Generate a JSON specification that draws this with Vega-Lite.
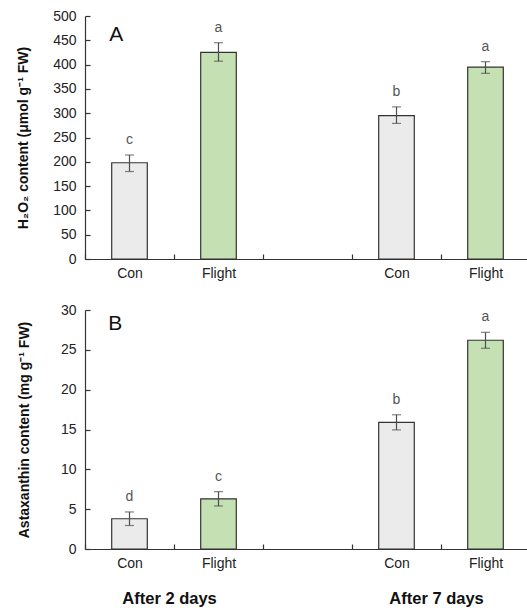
{
  "$schema": "https://vega.github.io/schema/vega-lite/v6.json",
  "padding": {"left": 16, "top": 9, "right": 0, "bottom": 0},
  "background": "white",
  "spacing": 23,
  "config": {
    "font": "Liberation Sans",
    "view": {"stroke": null},
    "axis": {
      "labelFont": "Liberation Sans",
      "labelFontSize": 14,
      "labelColor": "#222",
      "titleFont": "Liberation Sans",
      "titleFontSize": 14,
      "titleFontWeight": "bold",
      "titleColor": "#111",
      "domainColor": "#333",
      "domainWidth": 1.2,
      "tickColor": "#333",
      "tickWidth": 1.2,
      "labelOverlap": false,
      "grid": false
    }
  },
  "datasets": {
    "h2o2": [
      {"g": "Con 2", "mean": 198, "lo": 180, "hi": 214, "grp": "Con", "letter": "c"},
      {"g": "Flight 2", "mean": 425, "lo": 407, "hi": 445, "grp": "Flight", "letter": "a"},
      {"g": "Con 7", "mean": 295, "lo": 279, "hi": 313, "grp": "Con", "letter": "b"},
      {"g": "Flight 7", "mean": 395, "lo": 382, "hi": 406, "grp": "Flight", "letter": "a"}
    ],
    "asta": [
      {"g": "Con 2", "mean": 3.8, "lo": 2.95, "hi": 4.65, "grp": "Con", "letter": "d"},
      {"g": "Flight 2", "mean": 6.3, "lo": 5.4, "hi": 7.2, "grp": "Flight", "letter": "c"},
      {"g": "Con 7", "mean": 15.9, "lo": 14.95, "hi": 16.85, "grp": "Con", "letter": "b"},
      {"g": "Flight 7", "mean": 26.2, "lo": 25.2, "hi": 27.2, "grp": "Flight", "letter": "a"}
    ],
    "days": [
      {"label": "After 2 days", "g": "Con 2"},
      {"label": "After 7 days", "g": "Con 7"}
    ]
  },
  "vconcat": [
    {
      "width": 445,
      "height": 243,
      "data": {"name": "h2o2"},
      "encoding": {
        "x": {
          "field": "g", "type": "nominal", "sort": null,
          "scale": {"type": "band", "domain": ["Con 2", "Flight 2", "gap", "Con 7", "Flight 7"], "paddingInner": 0, "paddingOuter": 0},
          "axis": {"title": null, "labelAngle": 0, "tickBand": "extent", "tickSize": -5, "labelPadding": 12,
                   "labelExpr": "indexof(['Con 2','Con 7'], datum.value) >= 0 ? 'Con' : (indexof(['Flight 2','Flight 7'], datum.value) >= 0 ? 'Flight' : '')"}
        }
      },
      "layer": [
        {
          "mark": {"type": "bar", "width": {"band": 0.4}, "stroke": "#333", "strokeWidth": 1.2},
          "encoding": {
            "y": {"field": "mean", "type": "quantitative", "title": "H₂O₂ content (μmol g⁻¹ FW)",
                  "scale": {"domain": [0, 500], "nice": false},
                  "axis": {"values": [0, 50, 100, 150, 200, 250, 300, 350, 400, 450, 500], "tickSize": -5, "labelPadding": 14, "titlePadding": 22}},
            "fill": {"field": "grp", "type": "nominal", "scale": {"domain": ["Con", "Flight"], "range": ["#ebebeb", "#c5e0b3"]}, "legend": null}
          }
        },
        {
          "mark": {"type": "errorbar", "color": "#4d4d4d", "ticks": {"size": 9, "color": "#4d4d4d"}, "thickness": 1.2},
          "encoding": {
            "y": {"field": "lo", "type": "quantitative", "title": "H₂O₂ content (μmol g⁻¹ FW)",
                  "axis": {"values": [0, 50, 100, 150, 200, 250, 300, 350, 400, 450, 500], "tickSize": -5, "labelPadding": 14, "titlePadding": 22}},
            "y2": {"field": "hi"}
          }
        },
        {
          "mark": {"type": "text", "fontSize": 14, "color": "#555", "dy": -11, "baseline": "alphabetic"},
          "encoding": {
            "y": {"field": "hi", "type": "quantitative", "title": "H₂O₂ content (μmol g⁻¹ FW)",
                  "axis": {"values": [0, 50, 100, 150, 200, 250, 300, 350, 400, 450, 500], "tickSize": -5, "labelPadding": 14, "titlePadding": 22}},
            "text": {"field": "letter"}
          }
        },
        {
          "data": {"values": [{"panel": "A"}]},
          "mark": {"type": "text", "fontSize": 21, "color": "#111", "baseline": "middle"},
          "encoding": {
            "x": {"datum": "Con 2", "bandPosition": 0.35},
            "y": {"datum": 461, "type": "quantitative",
                  "axis": {"values": [0, 50, 100, 150, 200, 250, 300, 350, 400, 450, 500], "tickSize": -5, "labelPadding": 14, "titlePadding": 22, "title": "H₂O₂ content (μmol g⁻¹ FW)"}},
            "text": {"field": "panel"}
          }
        }
      ]
    },
    {
      "width": 445,
      "height": 239,
      "data": {"name": "asta"},
      "encoding": {
        "x": {
          "field": "g", "type": "nominal", "sort": null,
          "scale": {"type": "band", "domain": ["Con 2", "Flight 2", "gap", "Con 7", "Flight 7"], "paddingInner": 0, "paddingOuter": 0},
          "axis": {"title": null, "labelAngle": 0, "tickBand": "extent", "tickSize": -5, "labelPadding": 12,
                   "labelExpr": "indexof(['Con 2','Con 7'], datum.value) >= 0 ? 'Con' : (indexof(['Flight 2','Flight 7'], datum.value) >= 0 ? 'Flight' : '')"}
        }
      },
      "layer": [
        {
          "mark": {"type": "bar", "width": {"band": 0.4}, "stroke": "#333", "strokeWidth": 1.2},
          "encoding": {
            "y": {"field": "mean", "type": "quantitative", "title": "Astaxanthin content (mg g⁻¹ FW)",
                  "scale": {"domain": [0, 30], "nice": false},
                  "axis": {"values": [0, 5, 10, 15, 20, 25, 30], "tickSize": -5, "labelPadding": 14, "titlePadding": 29}},
            "fill": {"field": "grp", "type": "nominal", "scale": {"domain": ["Con", "Flight"], "range": ["#ebebeb", "#c5e0b3"]}, "legend": null}
          }
        },
        {
          "mark": {"type": "errorbar", "color": "#4d4d4d", "ticks": {"size": 9, "color": "#4d4d4d"}, "thickness": 1.2},
          "encoding": {
            "y": {"field": "lo", "type": "quantitative", "title": "Astaxanthin content (mg g⁻¹ FW)",
                  "axis": {"values": [0, 5, 10, 15, 20, 25, 30], "tickSize": -5, "labelPadding": 14, "titlePadding": 29}},
            "y2": {"field": "hi"}
          }
        },
        {
          "mark": {"type": "text", "fontSize": 14, "color": "#555", "dy": -11, "baseline": "alphabetic"},
          "encoding": {
            "y": {"field": "hi", "type": "quantitative", "title": "Astaxanthin content (mg g⁻¹ FW)",
                  "axis": {"values": [0, 5, 10, 15, 20, 25, 30], "tickSize": -5, "labelPadding": 14, "titlePadding": 29}},
            "text": {"field": "letter"}
          }
        },
        {
          "data": {"values": [{"panel": "B"}]},
          "mark": {"type": "text", "fontSize": 21, "color": "#111", "baseline": "middle"},
          "encoding": {
            "x": {"datum": "Con 2", "bandPosition": 0.34},
            "y": {"datum": 28.2, "type": "quantitative",
                  "axis": {"values": [0, 5, 10, 15, 20, 25, 30], "tickSize": -5, "labelPadding": 14, "titlePadding": 29, "title": "Astaxanthin content (mg g⁻¹ FW)"}},
            "text": {"field": "panel"}
          }
        },
        {
          "data": {"name": "days"},
          "mark": {"type": "text", "fontSize": 16.5, "fontWeight": "bold", "color": "#111", "baseline": "middle"},
          "encoding": {
            "x": {"field": "g", "type": "nominal", "bandPosition": 0.95},
            "y": {"datum": -6.3, "type": "quantitative",
                  "axis": {"values": [0, 5, 10, 15, 20, 25, 30], "tickSize": -5, "labelPadding": 14, "titlePadding": 29, "title": "Astaxanthin content (mg g⁻¹ FW)"}},
            "text": {"field": "label"}
          }
        }
      ]
    }
  ]
}
